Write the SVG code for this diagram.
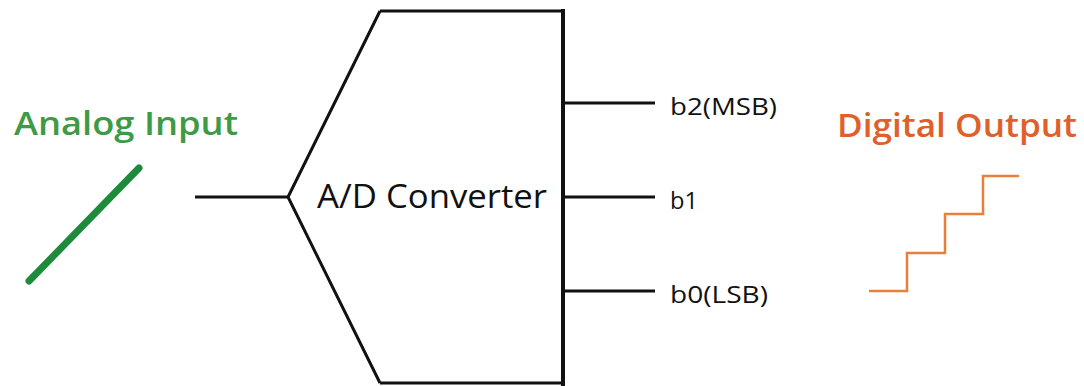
<svg xmlns="http://www.w3.org/2000/svg" width="1084" height="386" viewBox="0 0 1084 386">
<style>
.wire{stroke:#111;stroke-width:3;fill:none}
.lbl{font-family:"Open Sans","Noto Sans",sans-serif;fill:#111}
.title{font-family:"Open Sans","Noto Sans",sans-serif;font-weight:600}
</style>
<rect width="1084" height="386" fill="#fff"/>
<g id="analog-input">
<text class="title" x="14" y="135" font-size="33" fill="#3e9a45" textLength="224" lengthAdjust="spacingAndGlyphs">Analog Input</text>
<line x1="29" y1="281" x2="139" y2="168" stroke="#1e8a3c" stroke-width="7" stroke-linecap="round"/>
</g>
<g id="converter">
<path class="wire" d="M380,11 L563,11 M380,383 L563,383 M380,11 L288,197 L380,383"/>
<line x1="563" y1="9" x2="563" y2="386" stroke="#111" stroke-width="4"/>
<text class="lbl" x="317" y="208" font-size="33" fill="#222" textLength="230" lengthAdjust="spacingAndGlyphs">A/D Converter</text>
</g>
<g id="connectors">
<line class="wire" x1="195" y1="197" x2="288" y2="197"/>
<line class="wire" x1="563" y1="103" x2="655" y2="103"/>
<line class="wire" x1="563" y1="197" x2="655" y2="197"/>
<line class="wire" x1="563" y1="291" x2="655" y2="291"/>
</g>
<g id="outputs">
<text class="lbl" x="670" y="115" font-size="23" textLength="107" lengthAdjust="spacingAndGlyphs">b2(MSB)</text>
<text class="lbl" x="670" y="209" font-size="23" textLength="28" lengthAdjust="spacingAndGlyphs">b1</text>
<text class="lbl" x="670" y="303" font-size="23" textLength="98" lengthAdjust="spacingAndGlyphs">b0(LSB)</text>
</g>
<g id="digital-output">
<text class="title" x="837" y="137" font-size="33" fill="#e0602c" textLength="240" lengthAdjust="spacingAndGlyphs">Digital Output</text>
<path d="M869,291 H907 V253 H945 V214 H983 V176 H1019" fill="none" stroke="#e8803c" stroke-width="2.5"/>
</g>
</svg>
